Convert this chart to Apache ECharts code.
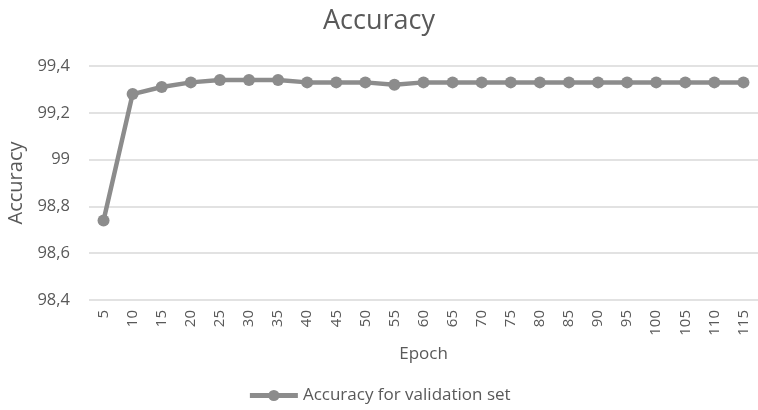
<!DOCTYPE html>
<html><head><meta charset="utf-8">
<script src="https://cdn.jsdelivr.net/npm/echarts@6/dist/echarts.min.js"></script>
<style>html,body{margin:0;padding:0;background:#fff}#c{width:758px;height:410px}</style>
</head><body><div id="c"></div>
<script>
const epochs = ['5','10','15','20','25','30','35','40','45','50','55','60','65','70','75','80','85','90','95','100','105','110','115'];
const accuracy = [98.74,99.28,99.31,99.33,99.34,99.34,99.34,99.33,99.33,99.33,99.32,99.33,99.33,99.33,99.33,99.33,99.33,99.33,99.33,99.33,99.33,99.33,99.33];
const seriesName = 'Accuracy for validation set';
const FONT = 'Open Sans';
const txt = '#595959';
const chart = echarts.init(document.getElementById('c'));
chart.setOption({
  animation: false,
  title: {text: 'Accuracy', left: 'center', top: 3, textStyle: {fontFamily: FONT, fontSize: 27, fontWeight: 'normal', color: txt}},
  legend: {bottom: 1, left: 'center', itemWidth: 48, itemHeight: 14, textStyle: {fontFamily: FONT, fontSize: 17, color: txt}, itemGap: 4,
    itemStyle: {color: '#8c8c8c'}, lineStyle: {width: 5, color: '#8c8c8c'}},
  grid: {left: 89, right: 0, top: 66, bottom: 110, containLabel: false, outerBoundsMode: 'none'},
  xAxis: {type: 'category', data: epochs, boundaryGap: true, name: 'Epoch', nameLocation: 'middle', nameGap: 46,
    nameTextStyle: {fontFamily: FONT, fontSize: 17, color: txt},
    axisLine: {show: false}, axisTick: {show: false},
    axisLabel: {rotate: 90, interval: 0, fontFamily: FONT, fontSize: 15, color: txt, margin: 10}},
  yAxis: {type: 'value', min: 98.4, max: 99.4, interval: 0.2, name: 'Accuracy', nameLocation: 'middle', nameGap: 63,
    nameTextStyle: {fontFamily: FONT, fontSize: 20, color: txt},
    axisLine: {show: false}, axisTick: {show: false},
    splitLine: {lineStyle: {color: '#d9d9d9', width: 1.5}},
    axisLabel: {fontFamily: FONT, fontSize: 16.5, color: txt, margin: 19,
      formatter: v => String(Math.round(v*10)/10).replace('.', ',')}},
  series: [{name: seriesName, type: 'line', data: accuracy, symbol: 'circle', symbolSize: 12,
    lineStyle: {color: '#8c8c8c', width: 4.5}, itemStyle: {color: '#8c8c8c'}}]
});
</script></body></html>
